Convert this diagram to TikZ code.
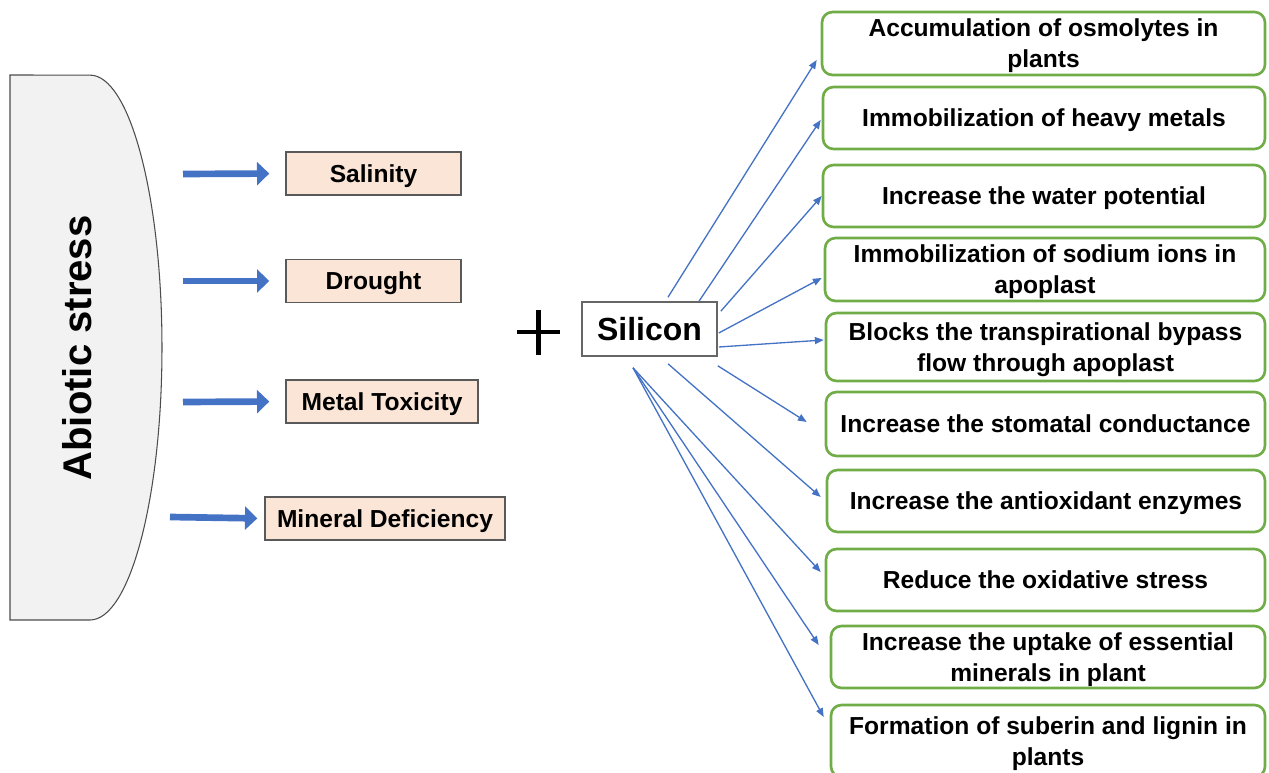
\documentclass[tikz,border=0pt]{standalone}
\usepackage{fontspec}
\setmainfont{Liberation Sans}
\usetikzlibrary{arrows.meta,calc,positioning}
\definecolor{arrowblue}{HTML}{4472C4}
\definecolor{boxgreen}{HTML}{70AD47}
\definecolor{peach}{HTML}{FBE5D6}
\definecolor{shapegray}{HTML}{F2F2F2}
\newcommand{\pxu}{0.02cm}

\begin{document}
\begin{tikzpicture}[x=0.02cm,y=-0.02cm,
  stressbox/.style={draw=black!65,line width=0.8pt,fill=peach,font=\fontsize{14}{17}\selectfont\bfseries,minimum height=43*\pxu,inner sep=0pt,text depth=0pt},
  effectbox/.style={draw=boxgreen,line width=1.5pt,rounded corners=6pt,fill=white,align=center,font=\fontsize{14}{17.6}\selectfont\bfseries,inner sep=0pt,text depth=0pt},
  fatarrow/.style={arrowblue,line width=3.8pt,-{Triangle[length=7pt,width=13pt]}},
  thinarrow/.style={arrowblue,line width=0.75pt,-{Triangle[length=5pt,width=4pt]}}]
\useasboundingbox (0,0) rectangle (1269,773);

% abiotic stress block
\draw[draw=black!70,fill=shapegray,line width=0.6pt] (10,620) -- (90,620)
  arc[start angle=-90,end angle=90,x radius=1.44cm,y radius=5.45cm] -- (10,75) -- cycle;
\node[rotate=90,font=\fontsize{22.8}{26}\selectfont\bfseries] (abio) at (77,348) {Abiotic stress};

% stress types
\node[stressbox,minimum width=175*\pxu] (sal) at (373.5,173.5) {Salinity};
\node[stressbox,minimum width=175*\pxu] (dro) at (373.5,281) {Drought};
\node[stressbox,minimum width=192*\pxu] (met) at (382,401.5) {Metal Toxicity};
\node[stressbox,minimum width=240*\pxu] (min) at (385,518.5) {Mineral Deficiency};

\coordinate (t1) at (183,174);
\coordinate (t2) at (183,281);
\coordinate (t3) at (183,402);
\coordinate (t4) at (170,517);
\draw[fatarrow,shorten >=16*\pxu] (t1) -- (sal.west);
\draw[fatarrow,shorten >=16*\pxu] (t2) -- (dro.west);
\draw[fatarrow,shorten >=16*\pxu] (t3) -- (met.west);
\draw[fatarrow,shorten >=7*\pxu] (t4) -- (min.west);

% plus and silicon
\draw[line width=2.3pt] (517,332) -- (560,332) (538.5,310) -- (538.5,355);
\node[draw=black!60,line width=0.9pt,fill=white,minimum width=135*\pxu,minimum height=54*\pxu,inner sep=0pt,text depth=0pt,font=\fontsize{18.2}{20}\selectfont\bfseries] (si) at (649.5,329) {Silicon};

% effects of silicon
\node[effectbox,minimum width=443*\pxu,minimum height=63*\pxu] (e1) at (1043.5,43.5) {Accumulation of osmolytes in\\plants};
\node[effectbox,minimum width=442*\pxu,minimum height=62*\pxu] (e2) at (1044,118) {Immobilization of heavy metals};
\node[effectbox,minimum width=442*\pxu,minimum height=62*\pxu] (e3) at (1044,196) {Increase the water potential};
\node[effectbox,minimum width=440*\pxu,minimum height=63*\pxu] (e4) at (1045,269.5) {Immobilization of sodium ions in\\apoplast};
\node[effectbox,minimum width=439*\pxu,minimum height=68*\pxu] (e5) at (1045.5,347) {Blocks the transpirational bypass\\flow through apoplast};
\node[effectbox,minimum width=439*\pxu,minimum height=64*\pxu] (e6) at (1045.5,424) {Increase the stomatal conductance};
\node[effectbox,minimum width=438*\pxu,minimum height=62*\pxu] (e7) at (1046,501) {Increase the antioxidant enzymes};
\node[effectbox,minimum width=439*\pxu,minimum height=62*\pxu] (e8) at (1045.5,580) {Reduce the oxidative stress};
\node[effectbox,minimum width=434*\pxu,minimum height=62*\pxu] (e9) at (1048,657) {Increase the uptake of essential\\minerals in plant};
\node[effectbox,minimum width=434*\pxu,minimum height=72*\pxu] (e10) at (1048,741) {Formation of suberin and lignin in\\plants};

% arrows out of silicon
\coordinate (s1) at ($(si.north)+(18.5,-4)$);
\coordinate (s2) at ($(si.north)+(49.5,0)$);
\coordinate (s3) at ($(si.north east)+(3,10)$);
\coordinate (s4) at ($(si.east)+(1,4)$);
\coordinate (s5) at ($(si.east)+(1,18)$);
\coordinate (s6) at ($(si.south east)+(0,9)$);
\coordinate (s7) at ($(si.south)+(18.5,7)$);
\coordinate (s8) at ($(si.south)+(-16.5,11)$);
\draw[thinarrow] (s1) -- ($(e1.west)+(-4,16.5)$);
\draw[thinarrow] (s2) -- ($(e2.west)+(-1,2)$);
\draw[thinarrow] (s3) -- (e3.west);
\draw[thinarrow] (s4) -- ($(e4.west)+(-2,8.5)$);
\draw[thinarrow] (s5) -- ($(e5.west)+(-1,-7)$);
\draw[thinarrow] (s6) -- ($(e6.west)+(-18,-2)$);
\draw[thinarrow] (s7) -- ($(e7.west)+(-5,-4)$);
\draw[thinarrow] (s8) -- ($(e8.west)+(-4,-8)$);
\draw[thinarrow] (s8) -- ($(e9.west)+(-11,-12)$);
\draw[thinarrow] (s8) -- ($(e10.west)+(-6,-24)$);
\end{tikzpicture}
\end{document}
